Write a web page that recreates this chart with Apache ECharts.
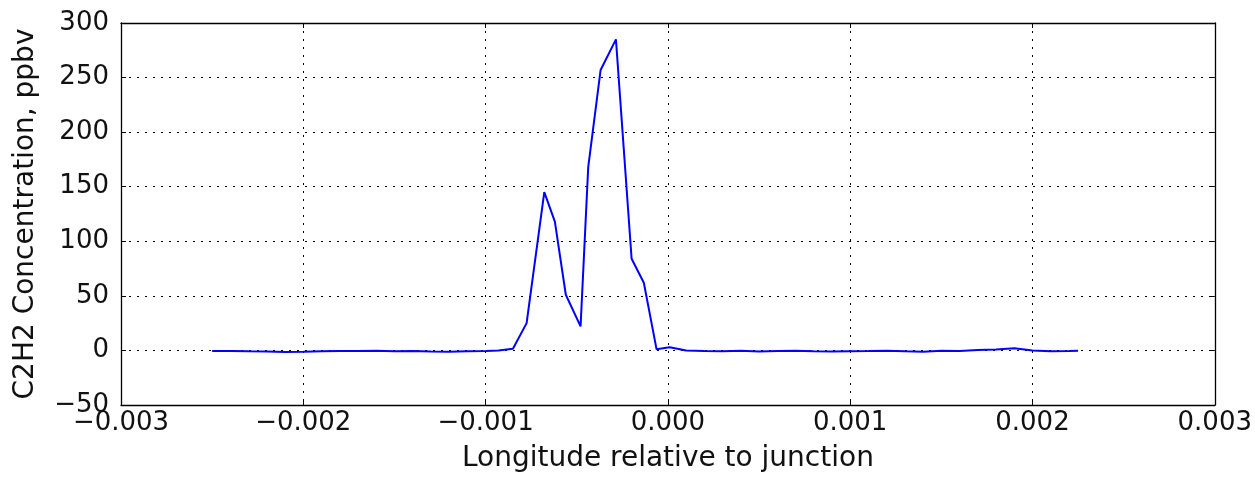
<!DOCTYPE html>
<html>
<head>
<meta charset="utf-8">
<script src="https://cdn.jsdelivr.net/npm/echarts@6/dist/echarts.min.js"></script>
<style>
    html, body { margin: 0; padding: 0; background: #fff; }
    #chart { width: 1255px; height: 478px; }
</style>
</head>
<body>
<div id="chart"></div>
<script>
// longitude relative to junction (degrees)
const longitudes = [
    -0.0025, -0.0024, -0.0023, -0.0022, -0.0021, -0.0020, -0.0019, -0.0018,
    -0.0017, -0.0016, -0.0015, -0.0014, -0.0013, -0.0012, -0.0011, -0.0010,
    -0.00093, -0.00085, -0.000775, -0.000678, -0.00062, -0.00056, -0.000479,
    -0.000437, -0.000369, -0.000285, -0.000199, -0.000132, -0.000062, 0.00001,
    0.0001, 0.0002, 0.0003, 0.0004, 0.0005, 0.0006, 0.0007, 0.0008, 0.0009,
    0.0010, 0.0011, 0.0012, 0.0013, 0.0014, 0.0015, 0.0016, 0.0017, 0.0018,
    0.0019, 0.0020, 0.0021, 0.0022, 0.00225
];
// C2H2 concentration (ppbv)
const concentrations = [
    -0.5, -0.5, -0.8, -1, -1.5, -1.2, -0.8, -0.5,
    -0.6, -0.4, -0.8, -0.5, -0.9, -1.2, -0.8, -0.5,
    0, 1.5, 25, 145, 118, 51, 22,
    168, 257, 285, 84, 62, 1, 3,
    0, -0.5, -0.8, -0.3, -1, -0.5, -0.2, -0.8, -1,
    -0.7, -0.6, -0.3, -0.8, -1.2, -0.4, -0.5, 0.5, 0.8,
    2, 0, -0.8, -0.5, -0.3
];
const xTicks = [-0.003, 0.003, 0.001];   // min, max, interval
const yTicks = [-50, 300, 50];

function fmtX(v) {
    const s = Math.abs(v).toFixed(3);
    return v < -1e-9 ? '\u2212' + s : s;
}
function fmtY(v) {
    return v < 0 ? '\u2212' + Math.abs(v) : String(v);
}

const font = 'DejaVu Sans';
const gridLine = { show: true, lineStyle: { color: '#000', type: [2, 6], width: 1 } };
const frame = { show: true, onZero: false, lineStyle: { color: '#000', width: 1.3 } };
const tick = { show: true, inside: true, length: 5, lineStyle: { color: '#000' } };

var chart = echarts.init(document.getElementById('chart'));

var option = {
    animation: false,
    grid: { left: 121, right: 40, top: 23, bottom: 70 },
    xAxis: [
        {
            type: 'value',
            min: xTicks[0], max: xTicks[1], interval: xTicks[2],
            name: 'Longitude relative to junction',
            nameLocation: 'middle',
            nameGap: 40,
            nameTextStyle: { fontFamily: font, fontSize: 28, color: '#111' },
            axisLine: frame, axisTick: tick, splitLine: gridLine,
            axisLabel: { fontFamily: font, fontSize: 26, color: '#111', margin: 5, formatter: fmtX }
        },
        {
            type: 'value', position: 'top',
            min: xTicks[0], max: xTicks[1], interval: xTicks[2],
            axisLine: frame, axisTick: tick, axisLabel: { show: false }, splitLine: { show: false }
        }
    ],
    yAxis: [
        {
            type: 'value',
            min: yTicks[0], max: yTicks[1], interval: yTicks[2],
            name: 'C2H2 Concentration, ppbv',
            nameLocation: 'middle',
            nameGap: 81,
            nameTextStyle: { fontFamily: font, fontSize: 28, color: '#111' },
            axisLine: frame, axisTick: tick, splitLine: gridLine,
            axisLabel: { fontFamily: font, fontSize: 26, color: '#111', margin: 12, formatter: fmtY }
        },
        {
            type: 'value', position: 'right',
            min: yTicks[0], max: yTicks[1], interval: yTicks[2],
            axisLine: frame, axisTick: tick, axisLabel: { show: false }, splitLine: { show: false }
        }
    ],
    series: [
        {
            type: 'line',
            data: longitudes.map((x, i) => [x, concentrations[i]]),
            showSymbol: false,
            lineStyle: { color: '#0000ff', width: 2 },
            itemStyle: { color: '#0000ff' }
        }
    ]
};

chart.setOption(option);
</script>
</body>
</html>
